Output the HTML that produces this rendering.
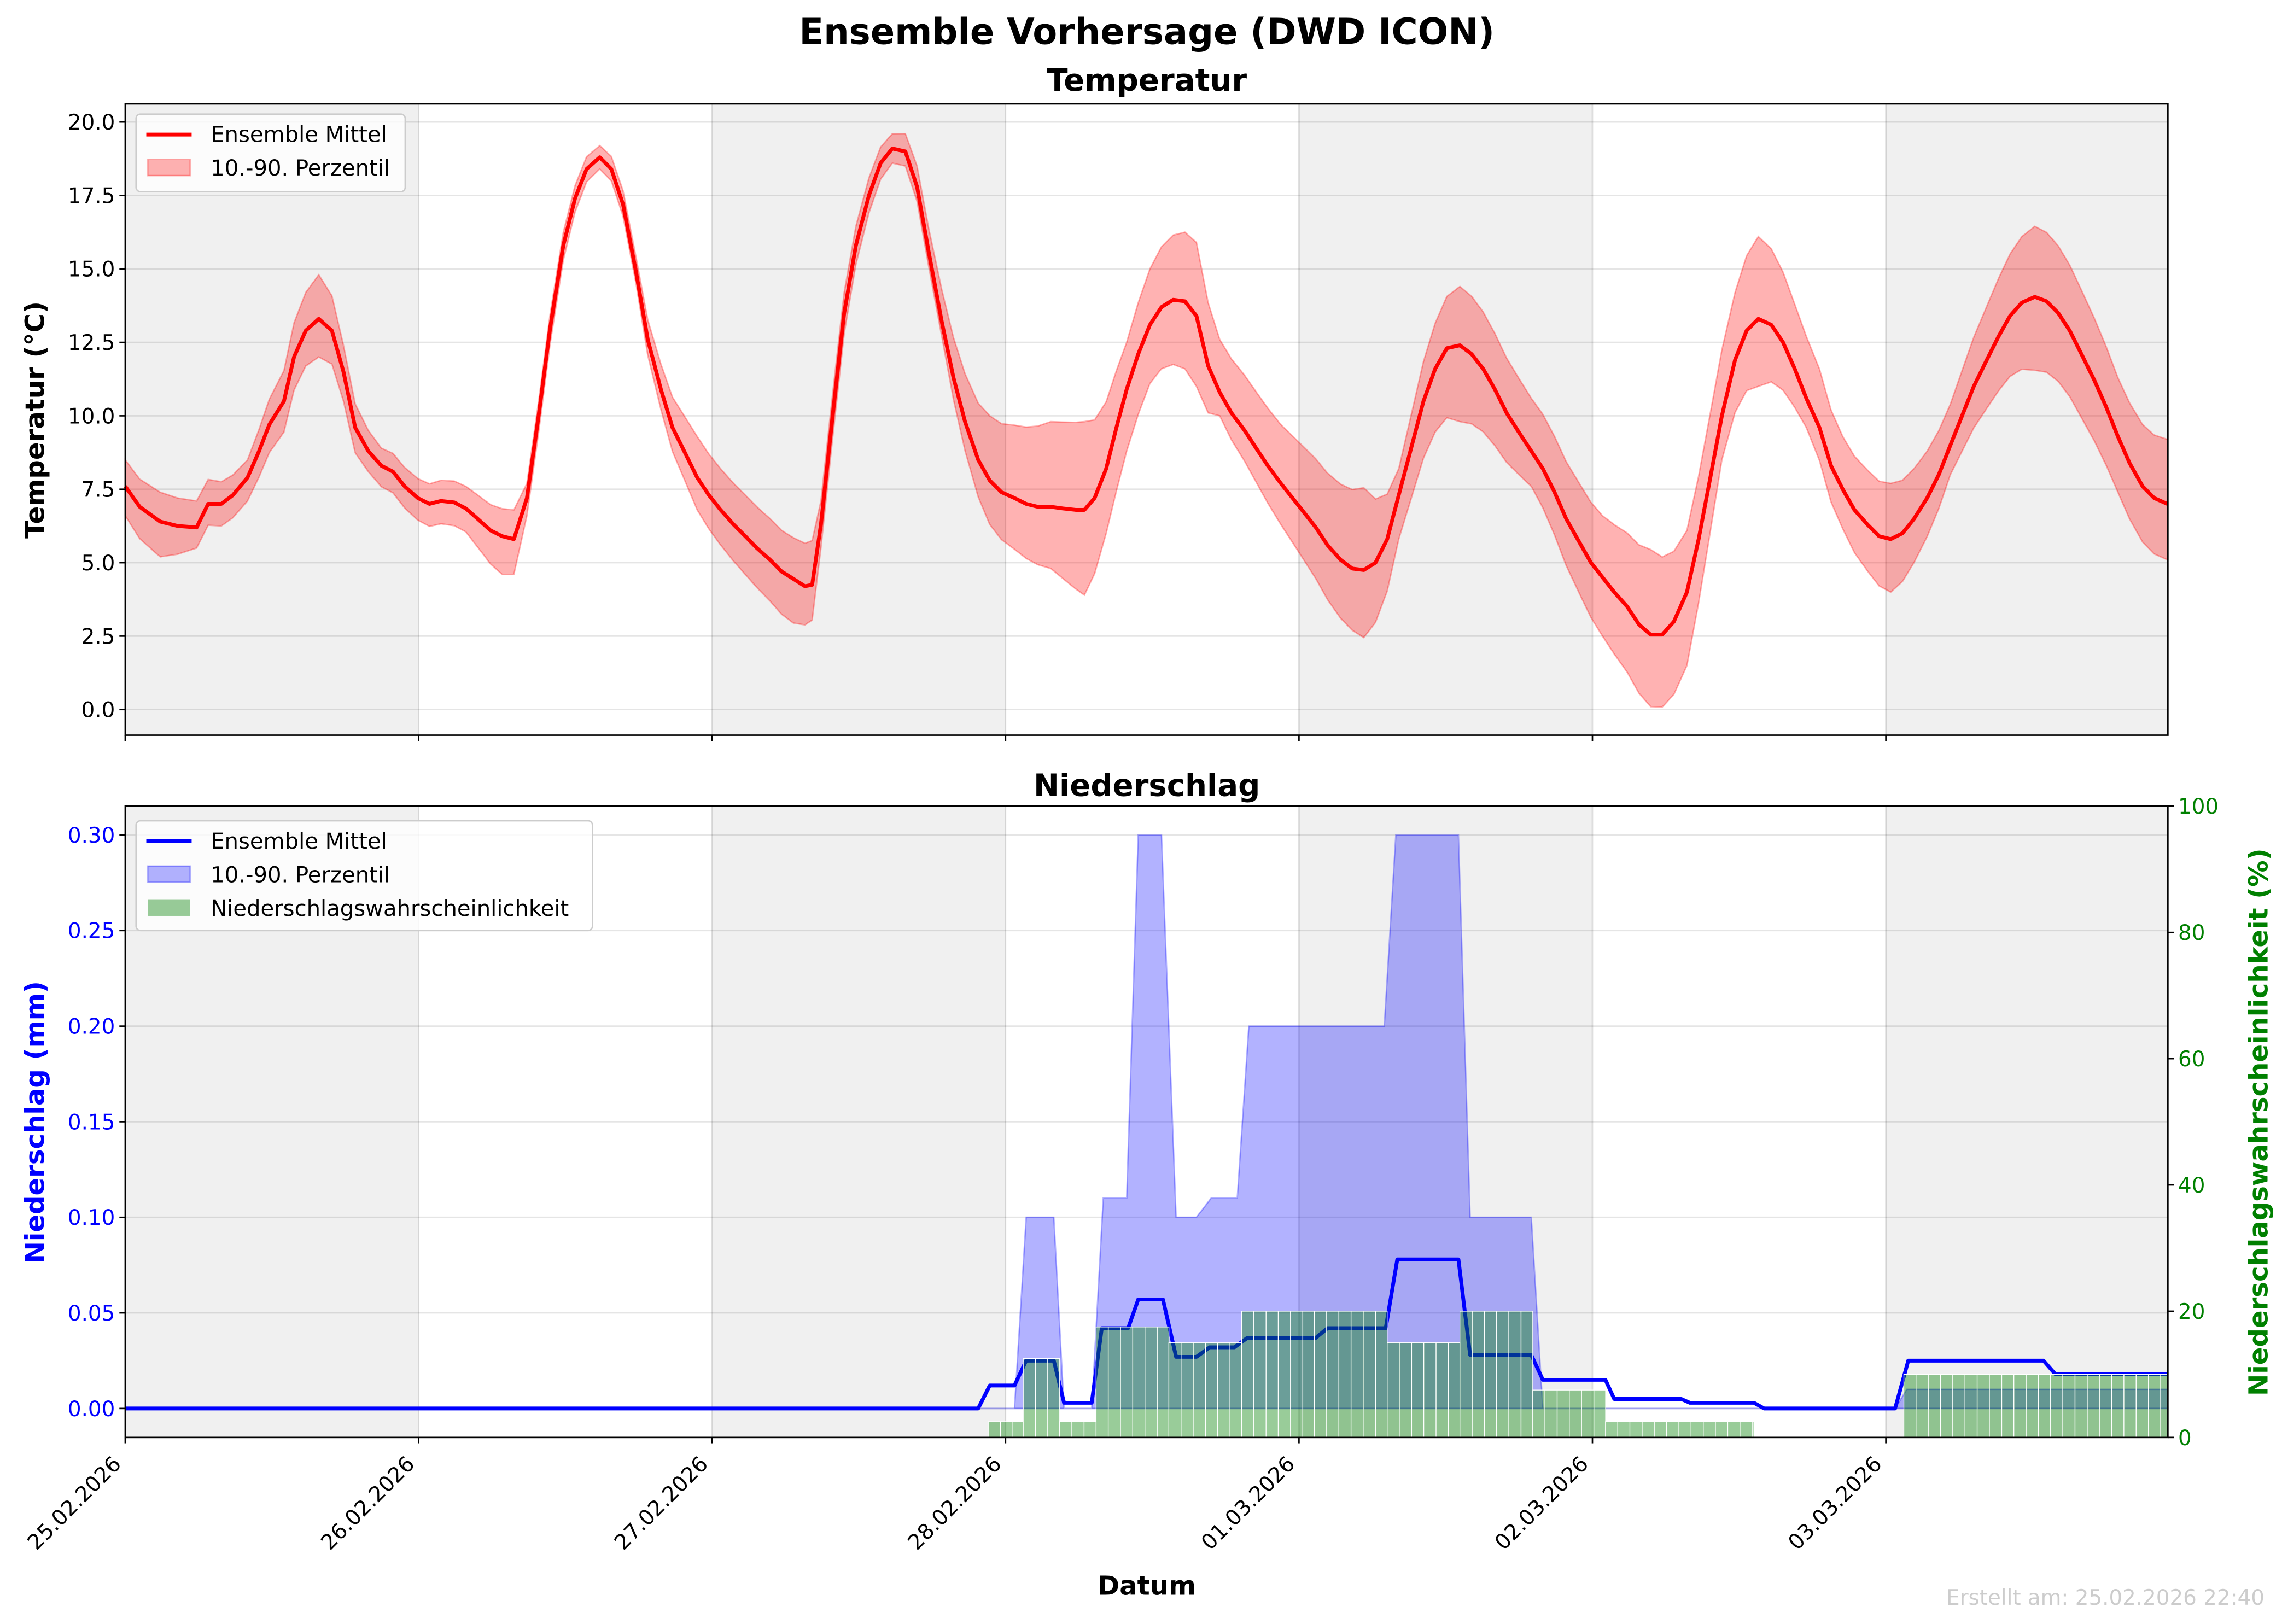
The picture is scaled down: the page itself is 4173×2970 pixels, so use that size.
<!DOCTYPE html>
<html><head><meta charset="utf-8">
<style>html,body{margin:0;padding:0;background:#fff;}svg{display:block;}text{font-family:"DejaVu Sans","Liberation Sans",sans-serif;}</style>
</head><body>
<svg id="s" xmlns="http://www.w3.org/2000/svg" width="4173" height="2970" viewBox="0 0 1560 1110" preserveAspectRatio="none">
<rect width="1560" height="1110" fill="#fff"/>
<g id="g"></g>
</svg>
<script>
var L=85.6,R=1482,D=200.6;
var T1=71,B1=502.5,T2=551,B2=982.5;
function ty(t){return 485-t*20.08;}
function py(p){return 962.7-p/0.30*392;}
function qy(q){return 982.5-q*4.315;}
function fx(x){return 85.6+(x-86)*0.995;}
var h='';
function bg(top,bot){
 for(var i=0;i<7;i+=2){var x0=L+i*D,x1=Math.min(R,x0+D);h+='<rect x="'+x0+'" y="'+top+'" width="'+(x1-x0)+'" height="'+(bot-top)+'" fill="#f0f0f0"/>';}
}
bg(T1,B1);bg(T2,B2);
for(var t=0;t<=20;t+=2.5){h+='<line x1="'+L+'" x2="'+R+'" y1="'+ty(t)+'" y2="'+ty(t)+'" stroke="#000" stroke-opacity="0.1" stroke-width="1"/>';}
for(var p=0;p<=0.3001;p+=0.05){h+='<line x1="'+L+'" x2="'+R+'" y1="'+py(p)+'" y2="'+py(p)+'" stroke="#000" stroke-opacity="0.1" stroke-width="1"/>';}
for(var i=1;i<7;i++){var x=L+i*D;h+='<line x1="'+x+'" x2="'+x+'" y1="'+T1+'" y2="'+B1+'" stroke="#000" stroke-opacity="0.13"/>';h+='<line x1="'+x+'" x2="'+x+'" y1="'+T2+'" y2="'+B2+'" stroke="#000" stroke-opacity="0.13"/>';}
var m=[[86,7.6],[96,6.9],[110,6.4],[122,6.25],[135,6.2],[143,7.0],[152,7.0],[160,7.3],[170,7.9],[178,8.8],[185,9.7],[195,10.5],[202,12.0],[210,12.9],[219,13.3],[228,12.9],[236,11.5],[244,9.6],[253,8.8],[262,8.3],[270,8.1],[278,7.6],[287,7.2],[295,7.0],[303,7.1],[312,7.05],[320,6.85],[328,6.5],[337,6.1],[345,5.9],[353,5.8],[362,7.2],[370,10],[378,13],[387,15.8],[395,17.4],[403,18.4],[412,18.8],[420,18.4],[428,17.2],[437,14.9],[445,12.6],[454,10.9],[462,9.6],[470,8.8],[479,7.9],[487,7.3],[495,6.8],[504,6.3],[512,5.9],[520,5.5],[529,5.1],[537,4.7],[545,4.45],[553,4.2],[558,4.25],[564,6.3],[572,10],[580,13.5],[588,15.8],[597,17.5],[605,18.6],[613,19.1],[622,19.0],[630,17.8],[638,15.6],[647,13.2],[655,11.3],[663,9.8],[672,8.5],[680,7.8],[688,7.4],[697,7.2],[705,7.0],[713,6.9],[722,6.9],[730,6.85],[739,6.8],[745,6.8],[752,7.2],[760,8.2],[767,9.6],[774,10.9],[782,12.1],[790,13.1],[798,13.7],[806,13.95],[814,13.9],[822,13.4],[830,11.7],[838,10.8],[846,10.1],[855,9.5],[863,8.9],[871,8.3],[880,7.7],[888,7.2],[896,6.7],[904,6.2],[912,5.6],[921,5.1],[929,4.8],[937,4.75],[945,5.0],[953,5.8],[961,7.3],[970,9.0],[978,10.5],[986,11.6],[994,12.3],[1003,12.4],[1011,12.1],[1019,11.6],[1027,10.9],[1035,10.1],[1044,9.4],[1052,8.8],[1060,8.2],[1068,7.4],[1076,6.5],[1085,5.7],[1093,5.0],[1101,4.5],[1109,4.0],[1118,3.5],[1126,2.9],[1134,2.55],[1142,2.55],[1150,3.0],[1159,4.0],[1167,5.8],[1175,7.9],[1183,10.0],[1192,11.9],[1200,12.9],[1208,13.3],[1217,13.1],[1225,12.5],[1233,11.6],[1241,10.6],[1250,9.6],[1258,8.3],[1266,7.5],[1274,6.8],[1283,6.3],[1291,5.9],[1299,5.8],[1307,6.0],[1315,6.5],[1324,7.2],[1332,8.0],[1340,9.0],[1348,10.0],[1356,11.0],[1365,11.9],[1373,12.7],[1381,13.4],[1389,13.85],[1398,14.05],[1406,13.9],[1414,13.5],[1422,12.9],[1430,12.1],[1439,11.2],[1447,10.3],[1455,9.3],[1463,8.4],[1472,7.6],[1480,7.2],[1489,7.0]];
var up=[[86,0.9],[110,1.0],[135,0.9],[170,0.6],[210,1.3],[219,1.5],[236,0.9],[262,0.6],[320,0.75],[353,1.0],[362,0.5],[412,0.4],[437,0.5],[479,1.4],[545,1.4],[558,1.5],[564,0.8],[613,0.5],[638,0.8],[680,2.2],[722,2.9],[745,3.0],[774,1.6],[806,2.2],[822,2.5],[838,1.8],[880,2.0],[937,2.8],[961,0.9],[1003,2.0],[1052,1.8],[1101,2.1],[1134,2.9],[1159,2.1],[1192,2.3],[1208,2.8],[1233,2.2],[1266,1.8],[1299,1.9],[1340,1.4],[1398,2.4],[1455,2.0],[1489,2.2]];
var lo=[[86,1.0],[110,1.2],[135,0.7],[170,0.8],[219,1.3],[253,0.7],[320,0.8],[345,1.3],[353,1.2],[362,0.6],[412,0.4],[437,0.4],[479,1.1],[545,1.5],[558,1.2],[564,0.8],[613,0.5],[647,0.5],[680,1.5],[722,2.1],[745,2.9],[760,2.2],[790,2.0],[806,2.2],[822,2.4],[838,0.8],[880,1.4],[929,2.1],[937,2.3],[961,1.5],[1003,2.6],[1052,1.2],[1101,2.0],[1134,2.45],[1159,2.5],[1183,1.5],[1208,2.3],[1241,1.0],[1299,1.8],[1340,1.0],[1398,2.5],[1455,1.9],[1489,1.9]];
function itp(a,x){for(var i=0;i<a.length-1;i++){if(x<=a[i+1][0]){var f=(x-a[i][0])/(a[i+1][0]-a[i][0]);return a[i][1]+f*(a[i+1][1]-a[i][1]);}}return a[a.length-1][1];}
var U=[],Lo=[],M=[];
m.forEach(function(p){var X=fx(p[0]).toFixed(1);U.push(X+','+ty(p[1]+itp(up,p[0])).toFixed(1));Lo.push(X+','+ty(p[1]-itp(lo,p[0])).toFixed(1));M.push(X+','+ty(p[1]).toFixed(1));});
h+='<polygon points="'+U.join(' ')+' '+Lo.reverse().join(' ')+'" fill="#ff0000" fill-opacity="0.3" stroke="#ff0000" stroke-opacity="0.3" stroke-width="1"/>';
h+='<polyline points="'+M.join(' ')+'" fill="none" stroke="#ff0000" stroke-width="2.6" stroke-linejoin="round"/>';
var bu=[[86,0],[697,0],[705,0.10],[724,0.10],[731,0],[750,0],[758,0.11],[774,0.11],[782,0.30],[798,0.30],[808,0.10],[822,0.10],[832,0.11],[850,0.11],[858,0.20],[951,0.20],[959,0.30],[1002,0.30],[1010,0.10],[1052,0.10],[1060,0],[1302,0],[1310,0.01],[1489,0.01]];
var pb=bu.map(function(p){return fx(p[0]).toFixed(1)+','+py(p[1]).toFixed(1);});
h+='<polygon points="'+pb.join(' ')+' '+R+','+py(0)+' '+L+','+py(0)+'" fill="#0000ff" fill-opacity="0.3" stroke="#0000ff" stroke-opacity="0.3" stroke-width="1"/>';
var pm=[[86,0],[672,0],[680,0.012],[697,0.012],[705,0.025],[724,0.025],[731,0.003],[750,0.003],[757,0.042],[775,0.042],[782,0.057],[799,0.057],[808,0.027],[822,0.027],[831,0.032],[848,0.032],[857,0.037],[904,0.037],[912,0.042],[952,0.042],[960,0.078],[1002,0.078],[1010,0.028],[1052,0.028],[1060,0.015],[1103,0.015],[1109,0.005],[1155,0.005],[1161,0.003],[1205,0.003],[1212,0],[1302,0],[1311,0.025],[1404,0.025],[1412,0.018],[1489,0.018]];
h+='<polyline points="'+pm.map(function(p){return fx(p[0]).toFixed(1)+','+py(p[1]).toFixed(1);}).join(' ')+'" fill="none" stroke="#0000ff" stroke-width="2.6" stroke-linejoin="round"/>';
var gb=[[679,703,2.5],[703,728,12.5],[728,753,2.5],[753,803,17.5],[803,853,15],[853,903,20],[903,953,20],[953,1003,15],[1003,1053,20],[1053,1103,7.5],[1103,1205,2.5],[1308,1489,10]];
gb.forEach(function(b){var y=qy(b[2]);for(var x=b[0];x<b[1]-0.5;x+=8.4){var w=Math.min(8.4,b[1]-x)*0.995;h+='<rect x="'+fx(x).toFixed(1)+'" y="'+y.toFixed(1)+'" width="'+w.toFixed(1)+'" height="'+(B2-y).toFixed(1)+'" fill="#008000" fill-opacity="0.4" stroke="#fff" stroke-width="0.5"/>';}});
h+='<rect x="'+L+'" y="'+T1+'" width="'+(R-L)+'" height="'+(B1-T1)+'" fill="none" stroke="#000" stroke-width="1"/>';
h+='<rect x="'+L+'" y="'+T2+'" width="'+(R-L)+'" height="'+(B2-T2)+'" fill="none" stroke="#000" stroke-width="1"/>';
var FS=14.5;
for(var t=0;t<=20;t+=2.5){var y=ty(t);h+='<line x1="'+(L-4)+'" x2="'+L+'" y1="'+y+'" y2="'+y+'" stroke="#000"/><text x="'+(L-7)+'" y="'+(y+5.2)+'" font-size="'+FS+'" text-anchor="end">'+t.toFixed(1)+'</text>';}
for(var k=0;k<=6;k++){var p=k*0.05,y=py(p);h+='<line x1="'+(L-4)+'" x2="'+L+'" y1="'+y+'" y2="'+y+'" stroke="#000"/><text x="'+(L-7)+'" y="'+(y+5.2)+'" font-size="'+FS+'" text-anchor="end" fill="#0000ff">'+p.toFixed(2)+'</text>';}
for(var q=0;q<=100;q+=20){var y=qy(q);h+='<line x1="'+R+'" x2="'+(R+4)+'" y1="'+y+'" y2="'+y+'" stroke="#000"/><text x="'+(R+7)+'" y="'+(y+5.2)+'" font-size="'+FS+'" fill="#008000">'+q+'</text>';}
var dl=['25.02.2026','26.02.2026','27.02.2026','28.02.2026','01.03.2026','02.03.2026','03.03.2026'];
for(var i=0;i<7;i++){var x=L+i*D;h+='<line x1="'+x+'" x2="'+x+'" y1="'+B1+'" y2="'+(B1+4)+'" stroke="#000"/><line x1="'+x+'" x2="'+x+'" y1="'+B2+'" y2="'+(B2+4)+'" stroke="#000"/>';
h+='<text transform="translate('+(x-2)+','+(B2+19)+') rotate(-45)" font-size="'+FS+'" text-anchor="end">'+dl[i]+'</text>';}
h+='<text x="784" y="30" font-size="24.5" font-weight="bold" text-anchor="middle">Ensemble Vorhersage (DWD ICON)</text>';
h+='<text x="784" y="62" font-size="21" font-weight="bold" text-anchor="middle">Temperatur</text>';
h+='<text x="784" y="544" font-size="21" font-weight="bold" text-anchor="middle">Niederschlag</text>';
h+='<text transform="translate(30,287) rotate(-90)" font-size="18" font-weight="bold" text-anchor="middle">Temperatur (°C)</text>';
h+='<text transform="translate(30,767) rotate(-90)" font-size="18" font-weight="bold" text-anchor="middle" fill="#0000ff">Niederschlag (mm)</text>';
h+='<text transform="translate(1550,767) rotate(-90)" font-size="18" font-weight="bold" text-anchor="middle" fill="#008000">Niederschlagswahrscheinlichkeit (%)</text>';
h+='<text x="784" y="1090" font-size="18" font-weight="bold" text-anchor="middle">Datum</text>';
h+='<text x="1548" y="1097" font-size="14.5" text-anchor="end" fill="#cccccc">Erstellt am: 25.02.2026 22:40</text>';
h+='<rect x="93" y="78" width="184" height="53" rx="3" fill="#fff" fill-opacity="0.8" stroke="#ccc"/>';
h+='<line x1="100" x2="131" y1="92" y2="92" stroke="#ff0000" stroke-width="2.6"/><text x="144" y="97" font-size="15">Ensemble Mittel</text>';
h+='<rect x="101" y="109" width="29" height="11" fill="#ff0000" fill-opacity="0.3" stroke="#ff0000" stroke-opacity="0.3"/><text x="144" y="120" font-size="15">10.-90. Perzentil</text>';
h+='<rect x="93" y="561" width="312" height="75" rx="3" fill="#fff" fill-opacity="0.8" stroke="#ccc"/>';
h+='<line x1="100" x2="131" y1="575" y2="575" stroke="#0000ff" stroke-width="2.6"/><text x="144" y="580" font-size="15">Ensemble Mittel</text>';
h+='<rect x="101" y="592" width="29" height="11" fill="#0000ff" fill-opacity="0.3" stroke="#0000ff" stroke-opacity="0.3"/><text x="144" y="603" font-size="15">10.-90. Perzentil</text>';
h+='<rect x="101" y="615" width="29" height="11" fill="#008000" fill-opacity="0.4"/><text x="144" y="626" font-size="15">Niederschlagswahrscheinlichkeit</text>';
document.getElementById('g').innerHTML=h;
</script>
</body></html>
